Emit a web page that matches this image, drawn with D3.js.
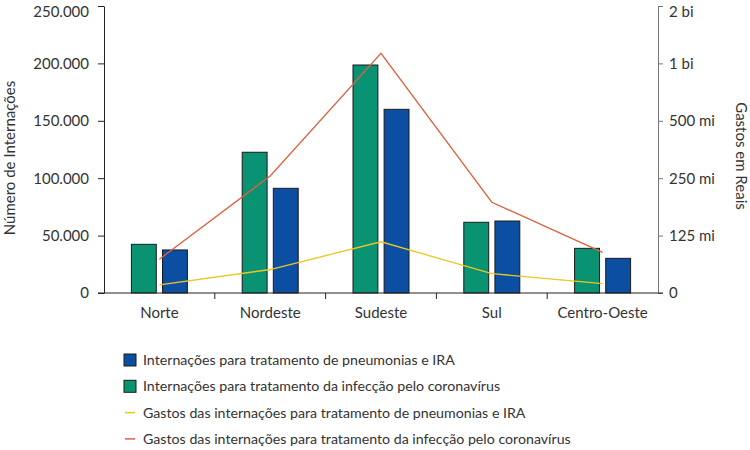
<!DOCTYPE html>
<html>
<head>
<meta charset="utf-8">
<script src="https://cdn.jsdelivr.net/npm/d3@7"></script>
<style>
html,body{margin:0;padding:0;background:#fff;}
svg{display:block;font-family:Lato,"Open Sans",sans-serif;}
</style>
</head>
<body>
<svg id="chart" width="750" height="450"></svg>
<script>
const categories = ["Norte", "Nordeste", "Sudeste", "Sul", "Centro-Oeste"];
const internacoesCovid = [42400, 122600, 198600, 61600, 38900];
const internacoesPneumonia = [37500, 91200, 160000, 62700, 30200];
const gastosCovid = [94e6, 257e6, 1130e6, 187e6, 102e6];
const gastosPneumonia = [69e6, 83e6, 116e6, 79e6, 70e6];
const leftTicks = [0, 50000, 100000, 150000, 200000, 250000];
const leftTickLabels = ["0", "50.000", "100.000", "150.000", "200.000", "250.000"];
const rightTicks = [62.5e6, 125e6, 250e6, 500e6, 1e9, 2e9];
const rightTickLabels = ["0", "125 mi", "250 mi", "500 mi", "1 bi", "2 bi"];
const legendLabels = [
  "Internações para tratamento de pneumonias e IRA",
  "Internações para tratamento da infecção pelo coronavírus",
  "Gastos das internações para tratamento de pneumonias e IRA",
  "Gastos das internações para tratamento da infecção pelo coronavírus"
];

const GREEN = "#0a9373", BLUE = "#0b4ea2", RED = "#dc6240", YELLOW = "#ecc621";
const svg = d3.select("#chart");
const mLeft = 104, mRight = 658, mTop = 6, mBottom = 293;

const x = d3.scaleBand().domain(categories).range([mLeft, mRight]).paddingInner(0).paddingOuter(0);
const inner = d3.scaleBand().domain(["covid", "pneu"]).range([0, 56]).paddingInner(0.2);
const yL = d3.scaleLinear().domain([0, 250000]).range([mBottom, mTop]);
const yR = d3.scaleLog().base(2).domain([62.5e6, 2e9]).range([mBottom, mTop]);

// bars
const groupOff = (x.bandwidth() - 56) / 2;
const barData = [];
categories.forEach((c, i) => {
  barData.push({c, k: "covid", v: internacoesCovid[i], col: GREEN});
  barData.push({c, k: "pneu", v: internacoesPneumonia[i], col: BLUE});
});
svg.append("g").selectAll("rect").data(barData).join("rect")
  .attr("x", d => x(d.c) + groupOff + inner(d.k))
  .attr("y", d => yL(d.v))
  .attr("width", inner.bandwidth())
  .attr("height", d => yL(0) - yL(d.v))
  .attr("fill", d => d.col)
  .attr("stroke", "#1b1b1b").attr("stroke-width", 1);

// lines
const cx = c => x(c) + x.bandwidth() / 2;
const line = d3.line().x(d => cx(d.c)).y(d => yR(d.v));
svg.append("path").datum(categories.map((c, i) => ({c, v: gastosPneumonia[i]})))
  .attr("d", line).attr("fill", "none").attr("stroke", YELLOW).attr("stroke-width", 1.3);
svg.append("path").datum(categories.map((c, i) => ({c, v: gastosCovid[i]})))
  .attr("d", line).attr("fill", "none").attr("stroke", RED).attr("stroke-width", 1.3);

// left axis
const gL = svg.append("g").attr("transform", `translate(${mLeft},0)`)
  .call(d3.axisLeft(yL).tickValues(leftTicks).tickFormat((d, i) => leftTickLabels[i]).tickSize(6).tickSizeOuter(0).tickPadding(9));
gL.select(".domain").attr("stroke", "#222");
gL.selectAll(".tick line").attr("stroke", "#222");
gL.selectAll("text").attr("font-size", 15).attr("fill", "#333").attr("font-family", "Lato");
gL.selectAll(".tick").filter(d => d === 250000).select("text").attr("dy", "0.7em");

// right axis
const gR = svg.append("g").attr("transform", `translate(${mRight},0)`)
  .call(d3.axisRight(yR).tickValues(rightTicks).tickFormat((d, i) => rightTickLabels[i]).tickSize(5).tickSizeOuter(0).tickPadding(6));
gR.select(".domain").attr("stroke", "#777");
gR.selectAll(".tick line").attr("stroke", "#777");
gR.selectAll("text").attr("font-size", 15).attr("fill", "#333").attr("font-family", "Lato");
gR.selectAll(".tick").filter(d => d === 2e9).select("text").attr("dy", "0.7em");

// x axis
const boundaries = categories.slice(1).map(c => x(c));
svg.append("line").attr("x1", mLeft - 6).attr("x2", mRight + 5).attr("y1", mBottom).attr("y2", mBottom).attr("stroke", "#222");
svg.append("g").selectAll("line").data(boundaries).join("line")
  .attr("x1", d => d).attr("x2", d => d).attr("y1", mBottom).attr("y2", mBottom + 6).attr("stroke", "#222");
svg.append("g").selectAll("text").data(categories).join("text")
  .attr("x", d => cx(d)).attr("y", 318).attr("text-anchor", "middle")
  .attr("font-size", 15).attr("fill", "#333").text(d => d);

// axis titles
svg.append("text").attr("transform", "translate(15,158) rotate(-90)").attr("text-anchor", "middle")
  .attr("font-size", 15).attr("fill", "#333").text("Número de Internações");
svg.append("text").attr("transform", "translate(736,156) rotate(90)").attr("text-anchor", "middle")
  .attr("font-size", 15).attr("fill", "#333").text("Gastos em Reais");

// legend
const legendCols = [BLUE, GREEN, YELLOW, RED];
const lg = svg.append("g");
legendLabels.forEach((t, i) => {
  const yy = 360 + i * 26.3;
  if (i < 2) {
    lg.append("rect").attr("x", 124).attr("y", yy - 6).attr("width", 12).attr("height", 12)
      .attr("fill", legendCols[i]).attr("stroke", "#1b1b1b").attr("stroke-width", 1);
  } else {
    lg.append("line").attr("x1", 125).attr("x2", 135).attr("y1", yy).attr("y2", yy)
      .attr("stroke", legendCols[i]).attr("stroke-width", 1.5);
  }
  lg.append("text").attr("x", 143).attr("y", yy + 5).attr("font-size", 14.2).attr("fill", "#333").text(t);
});
</script>
</body>
</html>
